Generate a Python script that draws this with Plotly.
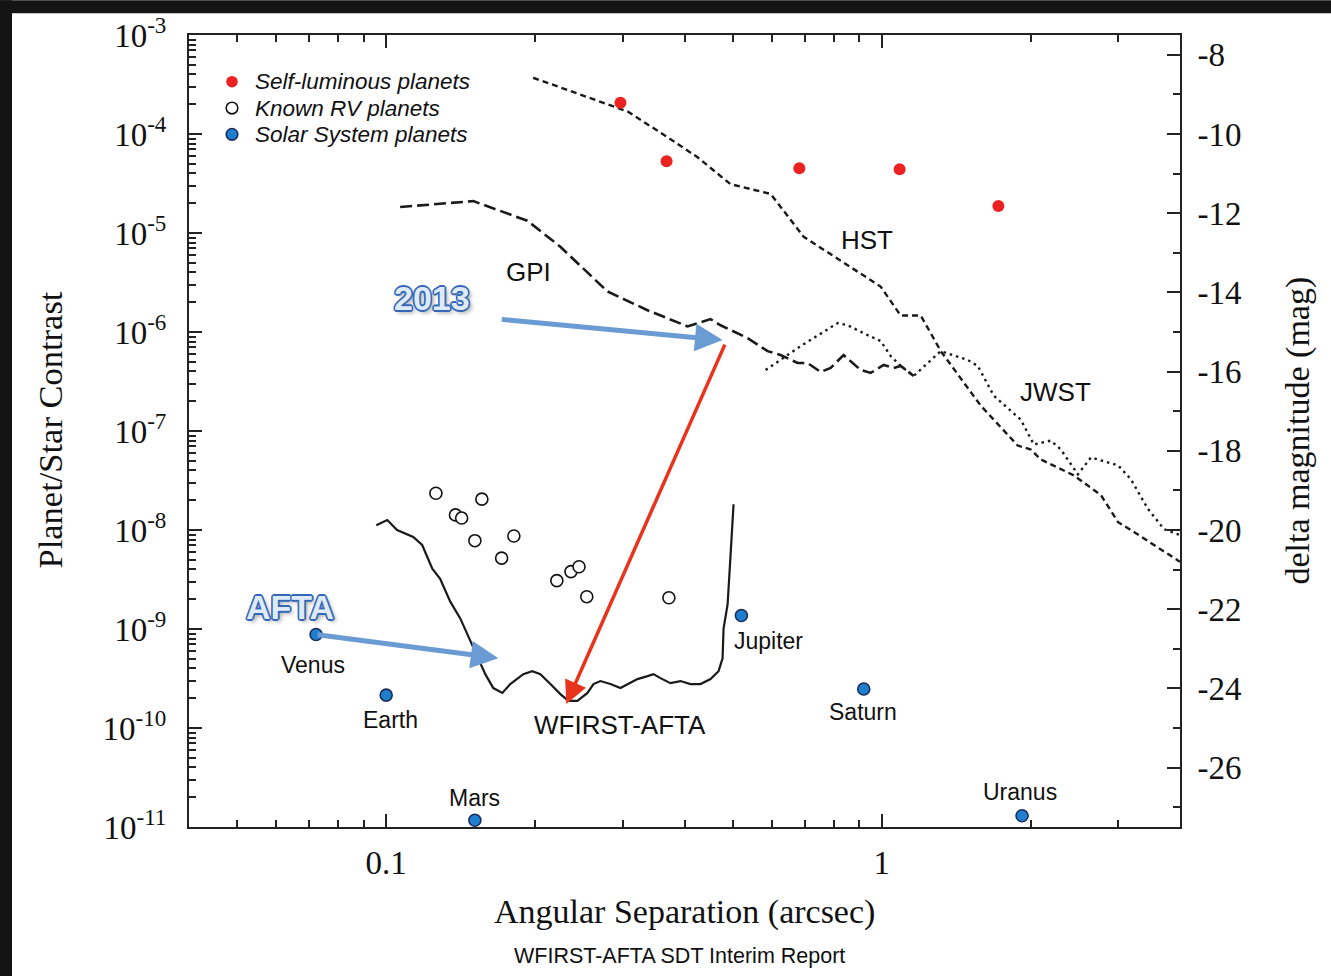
import numpy as np
import plotly.graph_objects as go

# ---------------- data ----------------
sep_selflum = [0.297, 0.368, 0.682, 1.087, 1.72]
con_selflum = [2.07e-4, 5.3e-5, 4.5e-5, 4.4e-5, 1.87e-5]

sep_rv = [0.126, 0.156, 0.138, 0.142, 0.151, 0.181, 0.171, 0.221, 0.236, 0.245, 0.254, 0.372]
con_rv = [2.35e-8, 2.05e-8, 1.42e-8, 1.32e-8, 7.8e-9, 8.7e-9, 5.2e-9, 3.08e-9, 3.8e-9,
          4.25e-9, 2.12e-9, 2.07e-9]

solar_names = ["Venus", "Earth", "Mars", "Jupiter", "Saturn", "Uranus"]
sep_solar = [0.0722, 0.100, 0.151, 0.521, 0.92, 1.92]
con_solar = [8.8e-10, 2.15e-10, 1.17e-11, 1.37e-9, 2.48e-10, 1.3e-11]

hst_sep = [0.198, 0.2875, 0.307, 0.370, 0.425, 0.495, 0.597, 0.696, 0.827, 0.995, 1.092,
           1.199, 1.316, 1.585, 1.684, 1.882, 2.0, 2.095, 2.443, 2.770, 3.0, 3.229, 4.0]
hst_con = [3.7e-4, 1.89e-4, 1.69e-4, 9.25e-5, 5.82e-5, 3.12e-5, 2.48e-5, 9.16e-6, 5.26e-6,
           2.88e-6, 1.47e-6, 1.47e-6, 6.41e-7, 1.8e-7, 1.3e-7, 7.13e-8, 6.5e-8, 5.16e-8,
           3.56e-8, 2.25e-8, 1.2e-8, 9.55e-9, 4.77e-9]

gpi_sep = [0.1067, 0.1499, 0.1927, 0.2246, 0.2796, 0.3368, 0.4056, 0.4513, 0.4729, 0.5363,
           0.5885, 0.6252, 0.6766, 0.7087, 0.753, 0.7888, 0.8379, 0.907, 0.9502, 1.0093,
           1.0573, 1.0924, 1.1604]
gpi_con = [1.83e-5, 2.1e-5, 1.33e-5, 7.27e-6, 2.57e-6, 1.66e-6, 1.14e-6, 1.35e-6, 1.17e-6,
           8.67e-7, 6.41e-7, 5.85e-7, 4.86e-7, 4.86e-7, 3.95e-7, 4.33e-7, 5.85e-7, 4.13e-7,
           3.86e-7, 4.64e-7, 4.33e-7, 4.54e-7, 3.6e-7]

jwst_sep = [0.5831, 0.6861, 0.815, 0.8538, 0.937, 0.9954, 1.0428, 1.0924, 1.1604, 1.3157,
            1.4917, 1.563, 1.684, 1.909, 2.028, 2.195, 2.299, 2.489, 2.644, 3.0, 3.184,
            3.447, 3.713, 4.0]
jwst_con = [4.13e-7, 7.2e-7, 1.23e-6, 1.17e-6, 9.29e-7, 8.09e-7, 5.71e-7, 4.54e-7, 3.6e-7,
            6.41e-7, 5.21e-7, 4.54e-7, 2.27e-7, 1.3e-7, 7.3e-8, 8.0e-8, 6.5e-8, 3.65e-8,
            5.4e-8, 4.5e-8, 3.25e-8, 1.63e-8, 1.02e-8, 8.9e-9]

wf_sep = [0.0955, 0.1005, 0.1052, 0.1134, 0.1182, 0.1239, 0.1285, 0.1347, 0.1411, 0.1478,
          0.1534, 0.1585, 0.1645, 0.1716, 0.178, 0.1839, 0.1891, 0.1972, 0.2047, 0.2145,
          0.2247, 0.2332, 0.2432, 0.2548, 0.262, 0.2706, 0.2835, 0.297, 0.3069, 0.3215,
          0.3368, 0.3463, 0.3577, 0.3747, 0.3926, 0.4113, 0.4309, 0.4514, 0.4686, 0.4774,
          0.4796, 0.4887, 0.4955, 0.5024]
wf_con = [1.12e-8, 1.26e-8, 1.0e-8, 8.5e-9, 7.06e-9, 4.06e-9, 3.22e-9, 1.89e-9, 1.28e-9,
          7.5e-10, 5.07e-10, 3.5e-10, 2.53e-10, 2.26e-10, 2.78e-10, 3.12e-10, 3.5e-10,
          3.75e-10, 3.5e-10, 2.78e-10, 2.2e-10, 1.88e-10, 1.88e-10, 2.26e-10, 2.78e-10,
          2.98e-10, 2.78e-10, 2.53e-10, 2.78e-10, 3.12e-10, 3.34e-10, 3.5e-10, 3.19e-10,
          2.84e-10, 2.98e-10, 2.78e-10, 2.78e-10, 3.12e-10, 3.75e-10, 5.07e-10, 1.01e-9,
          1.77e-9, 5.61e-9, 1.82e-8]

legend_names = ["Self-luminous planets", "Known RV planets", "Solar System planets"]
curve_labels = ["GPI", "HST", "JWST", "WFIRST-AFTA"]
left_exps = list(range(-11, -2))
right_mags = list(range(-26, -7, 2))

# ---------------- figure ----------------
L, R, T, B = 189, 151, 30, 149
W, H = 1331, 976
PW, PH = W - L - R, H - T - B


def px2paper(px, py):
    return (px - L) / PW, (H - B - py) / PH


fig = go.Figure()
line_col = "#1a1a1a"
red, blue_pt, blue_edge = "#ec2222", "#1f7fcf", "#1c2d5c"

fig.add_trace(go.Scatter(x=hst_sep, y=hst_con, mode="lines", showlegend=False,
                         line=dict(color=line_col, width=2.4, dash="6px,4px")))
fig.add_trace(go.Scatter(x=gpi_sep, y=gpi_con, mode="lines", showlegend=False,
                         line=dict(color=line_col, width=2.6, dash="12px,5px")))
fig.add_trace(go.Scatter(x=jwst_sep, y=jwst_con, mode="lines", showlegend=False,
                         line=dict(color=line_col, width=2.4, dash="2.5px,4px")))
fig.add_trace(go.Scatter(x=wf_sep, y=wf_con, mode="lines", showlegend=False,
                         line=dict(color=line_col, width=2.2)))

fig.add_trace(go.Scatter(x=sep_selflum, y=con_selflum, mode="markers", showlegend=False,
                         name=legend_names[0],
                         marker=dict(color=red, size=12, line=dict(width=0))))
fig.add_trace(go.Scatter(x=sep_rv, y=con_rv, mode="markers", showlegend=False,
                         name=legend_names[1],
                         marker=dict(color="white", size=12,
                                     line=dict(color="#111", width=1.6))))
fig.add_trace(go.Scatter(x=sep_solar, y=con_solar, mode="markers", showlegend=False,
                         name=legend_names[2], cliponaxis=False,
                         marker=dict(color=blue_pt, size=12,
                                     line=dict(color=blue_edge, width=1.6))))
# carrier for the right-hand magnitude axis
fig.add_trace(go.Scatter(x=[None], y=[None], yaxis="y2", showlegend=False,
                         hoverinfo="skip"))

# ticks
minor_x = [m * 10.0 ** e for e in (-2, -1, 0) for m in range(2, 10)]
minor_x = [v for v in minor_x if 0.04 <= v <= 4]
minor_y = [m * 10.0 ** e for e in range(-11, -3) for m in range(2, 10)]

axcol = "#222"
serif = "Liberation Serif"
sans = "Liberation Sans"

fig.update_layout(
    width=W, height=H,
    margin=dict(l=L, r=R, t=T, b=B),
    paper_bgcolor="white",
    plot_bgcolor="white",
    showlegend=False,
    xaxis=dict(type="log", range=[np.log10(0.04), np.log10(4)],
               tickvals=[0.1, 1], ticktext=["0.1", "1"],
               ticks="inside", ticklen=13, tickwidth=2, tickcolor=axcol,
               showline=True, linewidth=2, linecolor=axcol, mirror="ticks",
               showgrid=False, zeroline=False, ticklabelstandoff=5,
               tickfont=dict(family=serif, size=33, color="#111"),
               minor=dict(tickvals=minor_x, ticks="inside", ticklen=7, tickwidth=1.5,
                          tickcolor=axcol, showgrid=False)),
    yaxis=dict(type="log", range=[-11, -3],
               tickvals=[10.0 ** e for e in left_exps],
               ticktext=["10<sup>%d</sup>" % e for e in left_exps],
               ticks="inside", ticklen=13, tickwidth=2, tickcolor=axcol,
               showline=True, linewidth=2, linecolor=axcol, mirror=False,
               showgrid=False, zeroline=False, ticklabelstandoff=14,
               tickfont=dict(family=serif, size=33, color="#111"),
               minor=dict(tickvals=minor_y, ticks="inside", ticklen=7, tickwidth=1.5,
                          tickcolor=axcol, showgrid=False)),
    yaxis2=dict(overlaying="y", side="right", anchor="x", range=[-27.5, -7.5],
                tickvals=right_mags, ticktext=["-%d" % (-m) for m in right_mags],
                ticks="inside", ticklen=13, tickwidth=2, tickcolor=axcol,
                showline=True, linewidth=2, linecolor=axcol,
                showgrid=False, zeroline=False, ticklabelstandoff=9,
                tickfont=dict(family=serif, size=33, color="#111"),
                minor=dict(tickvals=[m - 1 for m in right_mags] + [-27], ticks="inside",
                           ticklen=7, tickwidth=1.5, tickcolor=axcol, showgrid=False)),
)

# dark frame strips (top and left edges of the picture)
for (ax0, ay0, ax1, ay1) in [(-5, -5, W + 5, 8), (-5, -5, 12, H + 5)]:
    p0 = px2paper(ax0, ay0)
    p1 = px2paper(ax1, ay1)
    fig.add_shape(type="rect", xref="paper", yref="paper", x0=p0[0], x1=p1[0],
                  y0=p1[1], y1=p0[1], fillcolor="#141414", line=dict(width=0),
                  layer="above")

ann = []


def paper_text(px, py, text, size, family, angle=0, **kw):
    xx, yy = px2paper(px, py)
    ann.append(dict(x=xx, y=yy, xref="paper", yref="paper", text=text, showarrow=False,
                    xanchor=kw.pop("xanchor", "center"), yanchor="middle",
                    textangle=angle, font=dict(family=family, size=size, color="#111", **kw)))


# axis titles and caption
paper_text(684, 913, "Angular Separation (arcsec)", 34, serif)
paper_text(50, 428, "Planet/Star Contrast", 34.5, serif, angle=-90)
paper_text(1298, 428, "delta magnitude (mag)", 34, serif, angle=-90)
paper_text(679, 957, "WFIRST-AFTA SDT Interim Report", 21.5, sans)

# manual legend
leg_rows = [77, 103.5, 130]
leg_sym = [dict(fillcolor=red, line=dict(width=0)),
           dict(fillcolor="white", line=dict(color="#111", width=1.6)),
           dict(fillcolor=blue_pt, line=dict(color=blue_edge, width=1.6))]
for nm, ry, st in zip(legend_names, leg_rows, leg_sym):
    cx, cy = px2paper(232, ry)
    fig.add_shape(type="circle", xref="paper", yref="paper", xsizemode="pixel",
                  ysizemode="pixel", xanchor=cx, yanchor=cy, x0=-5.8, x1=5.8,
                  y0=-5.8, y1=5.8, layer="above", **st)
    paper_text(253, ry, nm, 22.5, sans, xanchor="left", style="italic")

# curve labels (positions in arcsec / contrast)
curve_pos = [(0.1935, 4.07e-6), (0.933, 8.55e-6), (2.246, 2.49e-7), (0.297, 1.08e-10)]
for lab, (sx, sy) in zip(curve_labels, curve_pos):
    ann.append(dict(x=np.log10(sx), y=np.log10(sy), xref="x", yref="y", text=lab,
                    showarrow=False, font=dict(family=sans, size=26, color="#111")))

# solar system planet labels
shifts = [(-3, -30), (4, -25), (0, 22), (27, -26), (-1, -23), (-2, 24)]
for nm, sx, sy, (dx, dy) in zip(solar_names, sep_solar, con_solar, shifts):
    ann.append(dict(x=np.log10(sx), y=np.log10(sy), xref="x", yref="y", text=nm,
                    showarrow=False, xshift=dx, yshift=dy,
                    font=dict(family=sans, size=23, color="#111")))

# outlined blue call-outs
oc = "#3467b8"
outline = ", ".join("%gpx %gpx 0 %s" % (a, b, oc) for a, b in
                    [(1.6, 0), (-1.6, 0), (0, 1.6), (0, -1.6), (1.2, 1.2), (-1.2, -1.2),
                     (1.2, -1.2), (-1.2, 1.2)]) + ", 3px 3px 4px rgba(0,0,0,0.35)"
for txt, sx, sy in [("2013", 0.1238, 2.18e-6), ("AFTA", 0.064, 1.65e-9)]:
    ann.append(dict(x=np.log10(sx), y=np.log10(sy), xref="x", yref="y", text=txt,
                    showarrow=False,
                    font=dict(family=sans, size=34, weight="bold", color="#dfeaf8",
                              shadow=outline)))

# arrows
blue = "#6a9bd3"
ann.append(dict(x=-0.3212, y=-6.082, ax=-0.7697, ay=-5.871, xref="x", yref="y",
                axref="x", ayref="y", text="", showarrow=True, arrowhead=2, arrowsize=1.1,
                arrowwidth=5, arrowcolor=blue, standoff=0))
ann.append(dict(x=-0.7737, y=-9.295, ax=np.log10(sep_solar[0]), ay=np.log10(con_solar[0]),
                xref="x", yref="y", axref="x", ayref="y", text="", showarrow=True,
                arrowhead=2, arrowsize=1.1, arrowwidth=5, arrowcolor=blue, standoff=0))
ann.append(dict(x=-0.6364, y=-9.757, ax=-0.3152, ay=-6.112, xref="x", yref="y",
                axref="x", ayref="y", text="", showarrow=True, arrowhead=2, arrowsize=1.3,
                arrowwidth=3.5, arrowcolor="#e8341c", standoff=0))

fig.update_layout(annotations=ann)
fig.write_html("out.html",
               post_script="document.body.style.margin='0';"
                           "document.body.style.overflow='hidden';"
                           "document.documentElement.style.overflow='hidden';"
                           "document.body.style.background='white';")
